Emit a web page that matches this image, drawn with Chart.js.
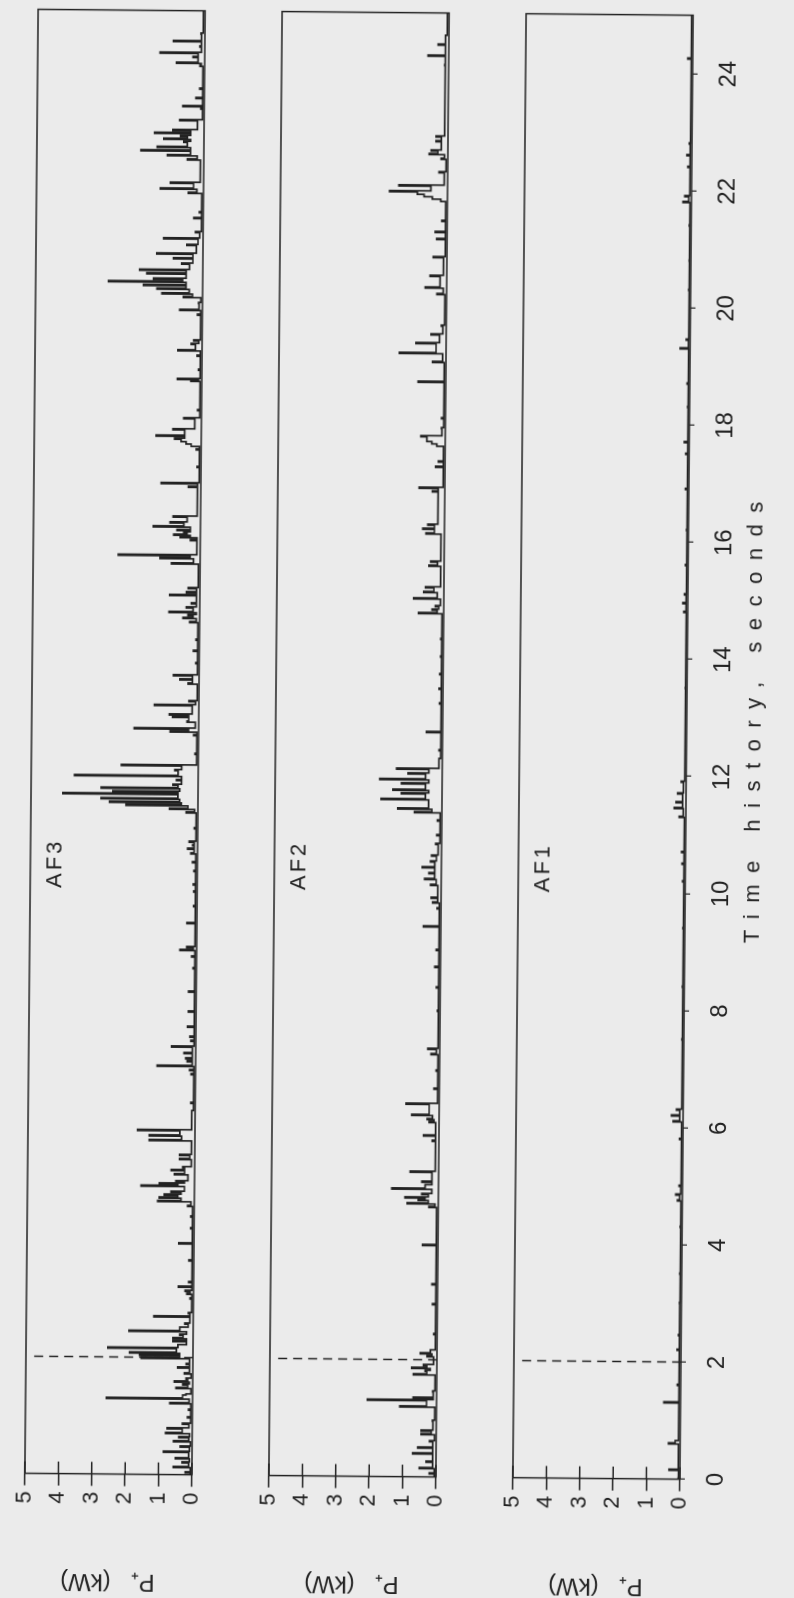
<!DOCTYPE html>
<html><head><meta charset="utf-8">
<script src="https://cdn.jsdelivr.net/npm/chart.js@4.4.0/dist/chart.umd.min.js"></script>
<style>
 html, body { margin:0; padding:0; width:794px; height:1598px; overflow:hidden; background:#ebebeb; }
 /* the plot is laid out landscape and turned onto the page, slightly off square like the scan */
 #stage { position:absolute; left:-402px; top:402px; width:1598px; height:794px;
          transform:rotate(-89.48deg); transform-origin:50% 50%; }
 #stage canvas { position:absolute; left:0; }
</style>
</head>
<body>
<div id="stage">
 <canvas id="af3" width="1598" height="244" style="top:0px"></canvas>
 <canvas id="af2" width="1598" height="244" style="top:243.5px"></canvas>
 <canvas id="af1" width="1598" height="306" style="top:488px"></canvas>
</div>
<script>
// time (s) at which each pulse starts, its peak P+ (kW), and the level it falls back to
var af3Time  = [0.00,0.03,0.12,0.20,0.27,0.38,0.47,0.56,0.63,0.70,0.78,0.86,0.97,1.10,1.21,1.29,1.36,1.47,1.53,1.58,
                1.63,1.72,1.82,1.88,1.98,2.03,2.07,2.15,2.20,2.27,2.32,2.38,2.44,2.50,2.57,2.69,2.75,3.00,3.08,3.13,
                3.20,3.28,3.65,3.94,4.20,4.40,4.58,4.66,4.72,4.77,4.82,4.92,4.96,5.00,5.12,5.19,5.24,5.38,5.45,5.70,
                5.78,5.87,6.20,6.34,6.83,6.90,6.97,7.05,7.10,7.19,7.30,7.40,7.47,7.64,7.90,8.24,8.64,8.84,8.95,9.00,
                9.41,9.70,9.95,10.07,10.30,10.45,10.60,10.68,10.74,10.80,11.03,11.30,11.36,11.42,11.47,11.53,11.61,11.65,11.71,11.77,
                11.85,11.92,12.02,12.10,12.30,12.62,12.68,12.73,12.85,12.93,12.97,13.13,13.20,13.50,13.57,13.64,13.85,14.06,14.25,14.55,
                14.62,14.67,14.72,14.80,14.87,15.01,15.06,15.13,15.55,15.64,15.69,15.95,16.00,16.04,16.08,16.12,16.18,16.25,16.35,16.86,
                16.92,17.20,17.50,17.56,17.60,17.64,17.68,17.73,17.84,18.03,18.17,18.67,18.70,18.86,19.10,19.19,19.30,19.36,19.80,19.88,
                20.00,20.10,20.16,20.24,20.30,20.36,20.41,20.50,20.56,20.67,20.76,20.84,20.99,21.10,21.21,21.45,21.55,21.88,21.95,22.05,
                22.45,22.52,22.60,22.66,22.75,22.80,22.85,22.90,22.95,23.12,23.32,23.36,23.50,23.66,24.05,24.10,24.20,24.27,24.38,24.47,
                24.60,24.98];
var af3Peak  = [0.05,0.20,0.56,0.30,0.50,0.86,0.36,0.56,0.40,0.80,0.75,0.30,0.15,0.12,0.68,2.58,0.20,0.50,0.30,0.55,
                0.20,0.25,0.45,0.20,1.55,1.60,1.90,2.55,0.45,0.60,0.60,0.40,1.92,0.40,0.25,1.18,0.15,0.10,0.20,0.25,
                0.45,0.15,0.15,0.45,0.10,0.10,0.20,1.10,1.05,0.90,0.70,1.60,1.05,0.56,0.60,0.70,0.36,0.45,0.45,1.37,
                1.37,1.72,0.10,0.13,0.13,0.18,1.15,0.25,0.30,0.35,0.72,0.15,0.18,0.25,0.23,0.23,0.10,0.15,0.50,0.30,
                0.30,0.10,0.10,0.12,0.10,0.15,0.20,0.30,0.15,0.25,0.10,0.35,0.85,2.15,2.65,2.90,4.05,2.55,2.90,0.75,
                0.65,3.70,0.70,2.30,0.10,0.15,0.85,1.93,0.35,0.78,0.88,1.33,0.30,0.33,0.57,0.77,0.10,0.18,0.10,0.30,
                0.50,0.35,0.92,0.40,0.25,0.90,0.40,0.35,0.86,1.20,2.45,0.30,0.60,0.80,0.50,0.70,1.41,0.91,0.82,0.37,
                1.19,0.12,0.15,0.30,0.45,0.60,0.80,1.35,0.85,0.53,0.12,0.33,0.73,0.10,0.15,0.72,0.33,0.25,0.15,0.68,
                0.12,0.57,1.22,1.37,1.77,2.82,1.47,1.67,1.89,0.63,0.88,1.38,0.48,1.18,0.23,0.28,0.12,0.45,1.29,0.99,
                0.49,1.09,1.88,1.40,0.60,1.20,0.70,1.48,0.93,0.73,0.10,0.64,0.25,0.14,0.14,0.84,0.35,1.34,0.15,0.94,
                0.12,0.05];
var af3Floor = [0.05,0.05,0.10,0.08,0.10,0.08,0.05,0.10,0.08,0.30,0.10,0.05,0.05,0.05,0.10,0.30,0.05,0.15,0.10,0.15,
                0.05,0.10,0.10,0.10,0.40,0.40,0.50,0.45,0.20,0.20,0.30,0.20,0.40,0.15,0.10,0.10,0.05,0.05,0.10,0.05,
                0.05,0.05,0.05,0.05,0.05,0.05,0.10,0.40,0.50,0.40,0.30,0.50,0.30,0.20,0.30,0.30,0.10,0.15,0.10,0.40,
                0.45,0.10,0.05,0.05,0.05,0.05,0.10,0.10,0.10,0.10,0.05,0.05,0.05,0.05,0.05,0.05,0.05,0.05,0.10,0.05,
                0.05,0.05,0.05,0.05,0.05,0.05,0.10,0.10,0.10,0.05,0.05,0.10,0.30,0.50,0.55,0.60,0.60,0.55,0.60,0.50,
                0.50,0.60,0.50,0.05,0.05,0.05,0.30,0.10,0.30,0.30,0.20,0.10,0.05,0.20,0.20,0.05,0.05,0.05,0.05,0.10,
                0.20,0.10,0.20,0.10,0.10,0.10,0.10,0.05,0.20,0.30,0.10,0.10,0.30,0.40,0.30,0.30,0.50,0.40,0.10,0.10,
                0.05,0.05,0.05,0.30,0.45,0.60,0.50,0.50,0.20,0.05,0.05,0.10,0.05,0.05,0.05,0.20,0.10,0.05,0.05,0.10,
                0.05,0.30,0.40,0.50,0.50,0.60,0.50,0.50,0.40,0.30,0.30,0.20,0.15,0.10,0.05,0.05,0.05,0.20,0.30,0.10,
                0.20,0.40,0.40,0.50,0.40,0.50,0.40,0.40,0.20,0.05,0.05,0.05,0.05,0.05,0.10,0.20,0.20,0.10,0.10,0.10,
                0.05,0.05];

var af2Time  = [0.00,0.05,0.14,0.25,0.39,0.49,0.60,0.72,0.78,0.95,1.19,1.30,1.34,1.45,1.74,1.80,1.85,1.90,2.05,2.10,
                2.15,2.43,2.94,3.28,3.95,4.60,4.66,4.72,4.76,4.82,4.91,4.97,5.03,5.20,5.73,5.82,6.05,6.10,6.17,6.36,
                6.62,6.93,7.21,7.30,7.95,8.35,8.70,8.99,9.39,9.70,9.80,9.88,10.10,10.20,10.30,10.40,10.50,10.60,10.80,10.95,
                11.20,11.34,11.40,11.56,11.66,11.72,11.83,11.90,12.00,12.08,12.25,12.40,12.71,13.20,13.45,13.70,14.00,14.30,14.74,14.80,
                14.86,14.99,15.10,15.18,15.55,15.62,16.10,16.18,16.25,16.82,16.88,17.24,17.33,17.60,17.64,17.68,17.76,17.90,18.07,18.69,
                19.03,19.18,19.35,19.50,19.65,20.19,20.30,20.50,20.82,21.13,21.25,21.44,21.78,21.82,21.86,21.90,21.94,22.04,22.27,22.50,
                22.58,22.64,22.80,22.88,24.10,24.26,24.45,24.60,24.98];
var af2Peak  = [0.05,0.20,0.50,0.30,0.70,0.55,0.20,0.45,0.45,0.12,1.10,2.07,0.70,0.12,0.70,0.35,0.75,0.40,0.30,0.50,
                0.20,0.10,0.15,0.17,0.46,0.28,0.93,0.60,1.00,0.50,1.40,0.40,0.50,0.85,0.20,0.46,0.30,0.36,0.82,0.99,
                0.16,0.10,0.26,0.36,0.08,0.12,0.17,0.13,0.52,0.12,0.25,0.30,0.32,0.50,0.37,0.57,0.33,0.30,0.18,0.15,
                0.13,0.82,1.32,1.82,1.22,1.47,1.22,1.87,1.02,1.37,0.10,0.10,0.48,0.10,0.12,0.10,0.08,0.08,0.75,0.35,
                0.25,0.90,0.60,0.55,0.45,0.40,0.55,0.65,0.50,0.37,0.77,0.28,0.20,0.25,0.40,0.55,0.73,0.12,0.12,0.83,
                0.40,1.40,0.90,0.45,0.15,0.29,0.64,0.50,0.41,0.31,0.36,0.16,0.20,0.45,0.70,0.90,1.73,1.46,0.26,0.20,
                0.56,0.50,0.36,0.36,0.12,0.62,0.32,0.10,0.05];
var af2Floor = [0.05,0.05,0.10,0.10,0.10,0.10,0.05,0.15,0.10,0.05,0.30,0.10,0.10,0.05,0.30,0.20,0.30,0.10,0.15,0.20,
                0.05,0.05,0.05,0.05,0.05,0.10,0.30,0.40,0.30,0.20,0.40,0.20,0.20,0.10,0.10,0.10,0.15,0.20,0.30,0.05,
                0.05,0.05,0.10,0.05,0.05,0.05,0.05,0.05,0.05,0.05,0.10,0.10,0.15,0.20,0.20,0.20,0.15,0.10,0.05,0.05,
                0.05,0.30,0.40,0.50,0.40,0.50,0.40,0.50,0.40,0.10,0.05,0.05,0.05,0.05,0.05,0.05,0.05,0.05,0.20,0.15,
                0.10,0.20,0.30,0.10,0.20,0.10,0.30,0.30,0.20,0.20,0.05,0.05,0.05,0.25,0.40,0.55,0.10,0.05,0.05,0.05,
                0.10,0.30,0.20,0.10,0.05,0.10,0.20,0.10,0.05,0.05,0.05,0.05,0.20,0.45,0.70,0.90,0.50,0.10,0.05,0.10,
                0.30,0.20,0.20,0.10,0.10,0.10,0.10,0.05,0.05];

var af1Time  = [0.00,0.15,0.60,0.64,1.30,1.60,2.20,2.45,3.00,3.50,4.30,4.75,4.85,5.00,5.80,6.10,6.20,6.30,7.50,8.40,
                9.40,10.20,10.50,10.70,11.30,11.45,11.55,11.70,11.90,13.50,14.80,14.95,15.10,15.60,16.20,16.90,17.50,17.70,18.30,18.70,
                19.30,19.45,20.30,20.80,21.40,21.80,21.90,22.40,22.60,22.80,24.25,24.98];
var af1Peak  = [0.05,0.33,0.35,0.15,0.50,0.10,0.12,0.08,0.06,0.06,0.06,0.15,0.20,0.10,0.10,0.30,0.35,0.20,0.06,0.06,
                0.06,0.08,0.10,0.12,0.20,0.35,0.30,0.25,0.15,0.05,0.12,0.15,0.10,0.08,0.06,0.10,0.10,0.15,0.06,0.08,
                0.30,0.12,0.06,0.05,0.06,0.25,0.20,0.12,0.15,0.08,0.15,0.04];
var af1Floor = [0.04,0.05,0.15,0.05,0.05,0.05,0.05,0.05,0.04,0.04,0.04,0.08,0.05,0.04,0.04,0.10,0.10,0.04,0.04,0.04,
                0.04,0.04,0.04,0.04,0.08,0.10,0.10,0.08,0.04,0.04,0.05,0.05,0.04,0.04,0.04,0.04,0.04,0.04,0.04,0.04,
                0.05,0.04,0.04,0.04,0.04,0.08,0.05,0.05,0.05,0.04,0.04,0.04];

var markTime = 2.0, markTop = 4.75;          // dashed marker in every panel
var timeTicks = { min: 0, max: 25, step: 2 };
var powerTicks = { min: 0, max: 5, step: 1 };
var timeTitle = 'Time history, seconds';
var powerTitle = 'P\u208A   (kW)';

var ink = '#222222';
var family = '"Liberation Sans", Arial, sans-serif';
var pulseWidth = 0.02;

function pulses(times, peaks, floors) {
  var pts = [];
  times.forEach(function (t, i) {
    pts.push({ x: t, y: peaks[i] });
    pts.push({ x: t + pulseWidth, y: floors[i] });
  });
  return pts;
}

// box round the plot, inner half of the crossing ticks, panel name and the time title
var panelDecor = {
  id: 'panelDecor',
  afterDatasetsDraw: function (chart, args, opts) {
    var ctx = chart.ctx, a = chart.chartArea, x = chart.scales.x, y = chart.scales.y;
    ctx.save();
    ctx.strokeStyle = ink;
    ctx.lineWidth = 1.5;
    ctx.strokeRect(a.left, a.top, a.right - a.left, a.bottom - a.top);
    ctx.beginPath();
    y.ticks.forEach(function (t) {
      var py = y.getPixelForValue(t.value);
      ctx.moveTo(a.left, py);
      ctx.lineTo(a.left + 12, py);
    });
    ctx.stroke();
    ctx.fillStyle = ink;
    ctx.font = '22px ' + family;
    ctx.letterSpacing = '3px';
    ctx.textBaseline = 'middle';
    ctx.textAlign = 'left';
    ctx.fillText(opts.name, x.getPixelForValue(10), y.getPixelForValue(4.25));
    if (opts.title) {
      ctx.font = '22px ' + family;
      ctx.letterSpacing = '11.5px';
      ctx.textAlign = 'center';
      ctx.textBaseline = 'alphabetic';
      ctx.fillText(opts.title, (a.left + a.right) / 2 + 31, a.bottom + 74);
    }
    ctx.restore();
  }
};

function makePanel(id, name, times, peaks, floors, withTime) {
  return new Chart(document.getElementById(id), {
    type: 'line',
    data: {
      datasets: [
        { data: pulses(times, peaks, floors), stepped: true, borderColor: ink, borderWidth: 1.7, pointRadius: 0 },
        { data: [{ x: markTime, y: markTop }, { x: markTime, y: 0 }], borderColor: ink, borderWidth: 1.5,
          borderDash: [9, 6], pointRadius: 0 }
      ]
    },
    options: {
      responsive: false,
      animation: false,
      events: [],
      layout: { padding: { left: 0, right: 12.6, top: 31, bottom: withTime ? 0 : 46 } },
      plugins: {
        legend: { display: false },
        tooltip: { enabled: false },
        panelDecor: { name: name, title: withTime ? timeTitle : '' }
      },
      scales: {
        x: {
          type: 'linear', min: timeTicks.min, max: timeTicks.max, display: withTime,
          afterFit: function (s) { if (withTime) s.height = 108; },
          border: { display: false },
          grid: { drawOnChartArea: false, tickLength: 5, color: ink, lineWidth: 1.2 },
          ticks: { stepSize: timeTicks.step, includeBounds: false, autoSkip: false, maxRotation: 0,
                   color: ink, font: { family: family, size: 24 }, padding: 17 }
        },
        y: {
          min: powerTicks.min, max: powerTicks.max,
          afterFit: function (s) { s.width = 121.4; },
          border: { display: false },
          grid: { drawOnChartArea: false, tickLength: 12, color: ink, lineWidth: 1.5 },
          ticks: { stepSize: powerTicks.step, autoSkip: false, color: ink, font: { family: family, size: 22 }, padding: 6 },
          title: { display: true, text: powerTitle, color: ink, font: { family: family, size: 24 }, padding: 0 }
        }
      }
    },
    plugins: [panelDecor]
  });
}

makePanel('af3', 'AF3', af3Time, af3Peak, af3Floor, false);
makePanel('af2', 'AF2', af2Time, af2Peak, af2Floor, false);
makePanel('af1', 'AF1', af1Time, af1Peak, af1Floor, true);
</script>
</body></html>
